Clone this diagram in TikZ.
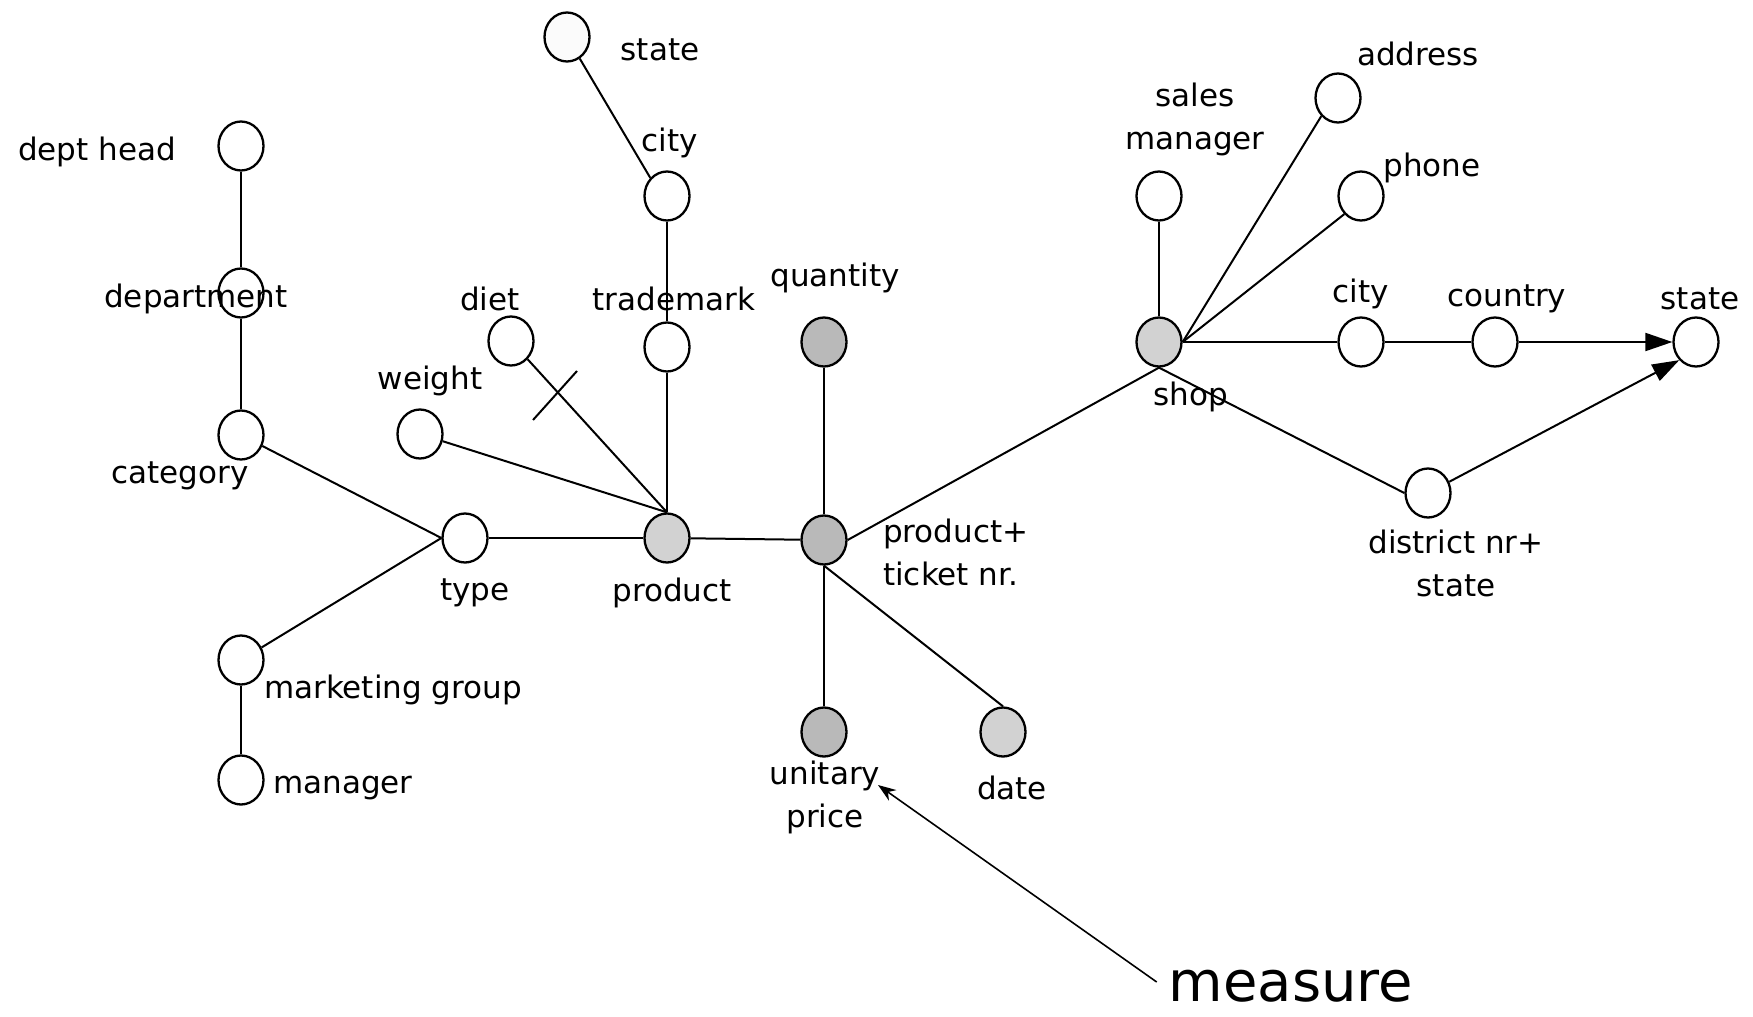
\documentclass[tikz,border=0pt]{standalone}
\usepackage{fontspec}
\setmainfont{DejaVu Sans}
\usetikzlibrary{shapes.geometric,arrows.meta}
\begin{document}
\begin{tikzpicture}[x=1pt,y=-1pt,
  attr/.style={ellipse,draw,line width=2.3pt,minimum width=45pt,minimum height=49pt,inner sep=0pt,fill=white},
  light/.style={attr,fill=gray!35},
  dark/.style={attr,fill=gray!55},
  lbl/.style={font=\fontsize{31}{43}\selectfont,inner sep=0pt,align=center},
  edge/.style={line width=2pt},
  bigarrow/.style={edge,-{Triangle[length=27pt,width=18pt]}},
]
\useasboundingbox (0,0) rectangle (1753,1017);

% attribute circles
\node[attr,fill=gray!3] (stateT) at (567,37) {};
\node[attr] (cityT) at (667,196) {};
\node[attr] (trademark) at (667,347) {};
\node[attr] (diet) at (511,341) {};
\node[attr] (weight) at (420,434) {};
\node[attr] (depthead) at (241,146) {};
\node[attr] (department) at (241,293) {};
\node[attr] (category) at (241,435) {};
\node[attr] (type) at (465,538) {};
\node[attr] (mktg) at (241,660) {};
\node[attr] (manager) at (241,780) {};
\node[light] (product) at (667,538) {};
\node[dark] (fact) at (824,540) {};
\node[dark] (quantity) at (824,342) {};
\node[dark] (uprice) at (824,732) {};
\node[light] (date) at (1003,732) {};
\node[light] (shop) at (1159,342) {};
\node[attr] (salesmgr) at (1159,196) {};
\node[attr] (address) at (1338,98) {};
\node[attr] (phone) at (1361,196) {};
\node[attr] (cityR) at (1361,342) {};
\node[attr] (country) at (1495,342) {};
\node[attr] (stateR) at (1696,342) {};
\node[attr] (district) at (1428,493) {};

% connectors
\draw[edge] (depthead) -- (department.north);
\draw[edge] (department.south) -- (category);
\draw[edge] (category) -- (type.west);
\draw[edge] (mktg) -- (type.west);
\draw[edge] (mktg) -- (manager);
\draw[edge] (type) -- (product);
\draw[edge] (weight) -- (product.north);
\draw[edge] (diet) -- (product.north);
\draw[edge] (trademark) -- (product.north);
\draw[edge] (cityT) -- (trademark);
\draw[edge] (stateT) -- (cityT.north west);
\draw[edge] (product) -- (fact);
\draw[edge] (quantity) -- (fact);
\draw[edge] (fact) -- (uprice);
\draw[edge] (fact.south) -- (date.north);
\draw[edge] (fact.east) -- (shop.south);
\draw[edge] (shop.south) -- (district.west);
\draw[edge] (shop) -- (salesmgr);
\draw[edge] (shop.east) -- (address.south west);
\draw[edge] (shop.east) -- (phone.south west);
\draw[edge] (shop) -- (cityR);
\draw[edge] (cityR) -- (country);
\draw[bigarrow] (country) -- (stateR);
\draw[bigarrow] (district) -- (stateR.south west);

% cross mark on the diet link
\coordinate (crossA) at (533,420);
\coordinate (crossB) at (577,371);
\draw[edge] (crossA) -- (crossB);

% labels
\node[lbl] (lstateT) at (660,50) {state};
\node[lbl] (lcityT) at (670,143) {city};
\node[lbl] (ltrademark) at (674,299) {trademark};
\node[lbl] (ldiet) at (490,299) {diet};
\node[lbl] (lweight) at (430,381) {weight};
\node[lbl] (ldepthead) at (97,152) {dept head};
\node[lbl] (ldepartment) at (196,299) {department};
\node[lbl] (lcategory) at (180,476) {category};
\node[lbl] (ltype) at (475,593) {type};
\node[lbl] (lmktg) at (393,690) {marketing group};
\node[lbl] (lmanager) at (343,788) {manager};
\node[lbl] (lproduct) at (672,593) {product};
\node[lbl,align=left,anchor=west] (lfact) at (883,552) {product+\\ticket nr.};
\node[lbl] (luprice) at (825,797) {unitary\\price};
\node[lbl] (lquantity) at (835,278) {quantity};
\node[lbl] (ldate) at (1012,788) {date};
\node[lbl] (lshop) at (1191,397) {shop};
\node[lbl] (lsalesmgr) at (1195,119) {sales\\manager};
\node[lbl] (laddress) at (1418,54) {address};
\node[lbl] (lphone) at (1432,168) {phone};
\node[lbl] (lcityR) at (1361,294) {city};
\node[lbl] (lcountry) at (1507,299) {country};
\node[lbl] (lstateR) at (1700,299) {state};
\node[lbl] (ldistrict) at (1456,563) {district nr+\\state};
\node[font=\fontsize{56}{60}\selectfont,inner sep=0pt] (measure) at (1291,986) {measure};

% pointer to the measure attribute
\coordinate (ptr) at (878,785);
\draw[edge,line width=1.6pt,-{Stealth[length=18pt,width=13pt]}] (measure.west) ++(-12,-4) -- (ptr);
\end{tikzpicture}
\end{document}
